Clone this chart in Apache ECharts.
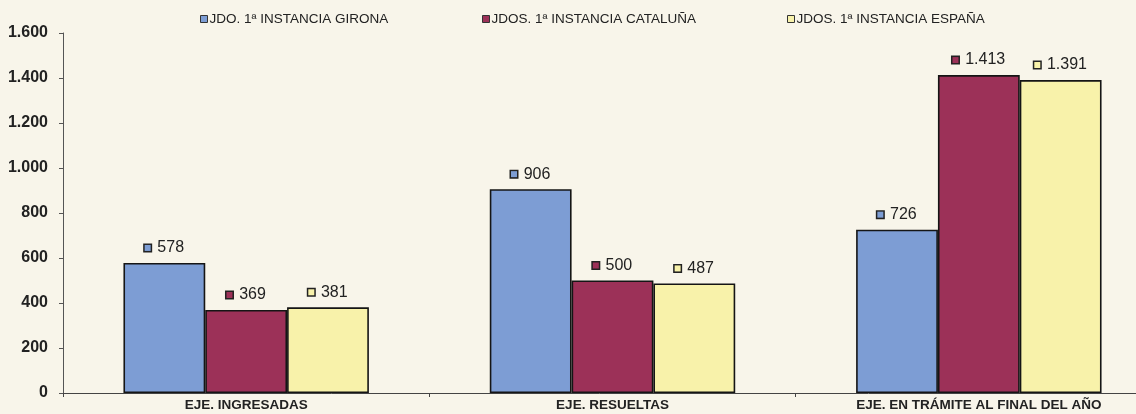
<!DOCTYPE html>
<html>
<head>
<meta charset="utf-8">
<script src="https://cdn.jsdelivr.net/npm/echarts@6/dist/echarts.min.js"></script>
<style>
  html, body { margin: 0; padding: 0; background: #f8f5ea; }
  #main { width: 1136px; height: 414px; }
</style>
</head>
<body>
<div id="main"></div>
<script>
// datos
var categorias = ['EJE. INGRESADAS', 'EJE. RESUELTAS', 'EJE. EN TRÁMITE AL FINAL DEL AÑO'];
var nombres = ['JDO. 1ª INSTANCIA GIRONA', 'JDOS. 1ª INSTANCIA CATALUÑA', 'JDOS. 1ª INSTANCIA ESPAÑA'];
var girona = [578, 906, 726];
var cataluna = [369, 500, 1413];
var espana = [381, 487, 1391];
var colores = ['#7d9dd4', '#9c3158', '#f8f2aa'];
var legendLeft = [195, 477, 782];

function miles(v) {
    return String(v).replace(/\B(?=(\d{3})+(?!\d))/g, '.');
}

var myChart = echarts.init(document.getElementById('main'));

function serie(idx, datos) {
    return {
        name: nombres[idx],
        type: 'bar',
        data: datos,
        barGap: '0%',
        barCategoryGap: '33%',
        itemStyle: {
            color: colores[idx],
            borderColor: '#151515',
            borderWidth: 1.6
        },
        label: {
            show: true,
            position: 'top',
            distance: 7,
            formatter: function (p) { return '{sq|}  {v|' + miles(p.value) + '}'; },
            rich: {
                sq: {
                    width: 6, height: 6,
                    backgroundColor: colores[idx],
                    borderColor: '#222',
                    borderWidth: 1.5
                },
                v: {
                    fontFamily: 'Arial, "Liberation Sans", sans-serif',
                    fontSize: 16,
                    color: '#222'
                }
            }
        }
    };
}

var option = {
    backgroundColor: '#f8f5ea',
    animation: false,
    legend: nombres.map(function (n, i) {
        return {
            data: [n],
            left: legendLeft[i],
            top: 7,
            itemWidth: 7,
            itemHeight: 7,
            itemGap: 3,
            icon: 'rect',
            itemStyle: { borderColor: '#333', borderWidth: 1 },
            textStyle: {
                fontFamily: 'Arial, "Liberation Sans", sans-serif',
                fontSize: 13.5,
                color: '#222',
                padding: [0, 0, 0, -3]
            }
        };
    }),
    grid: { left: 63, width: 1099, top: 33, bottom: 21, outerBoundsMode: 'none' },
    xAxis: {
        type: 'category',
        data: categorias,
        axisLine: { lineStyle: { color: '#444', width: 1 } },
        axisTick: { show: true, length: 4, lineStyle: { color: '#444' } },
        axisLabel: {
            margin: 5,
            fontFamily: 'Arial, "Liberation Sans", sans-serif',
            fontSize: 13.5,
            fontWeight: 'bold',
            color: '#222'
        }
    },
    yAxis: {
        type: 'value',
        min: 0,
        max: 1600,
        interval: 200,
        splitLine: { show: false },
        axisLine: { show: true, lineStyle: { color: '#555', width: 1 } },
        axisTick: { show: true, length: 4, lineStyle: { color: '#555' } },
        axisLabel: {
            margin: 15,
            fontFamily: 'Arial, "Liberation Sans", sans-serif',
            fontSize: 16,
            fontWeight: 'bold',
            color: '#222',
            formatter: miles
        }
    },
    series: [
        serie(0, girona),
        serie(1, cataluna),
        serie(2, espana)
    ]
};

myChart.setOption(option);
</script>
</body>
</html>
